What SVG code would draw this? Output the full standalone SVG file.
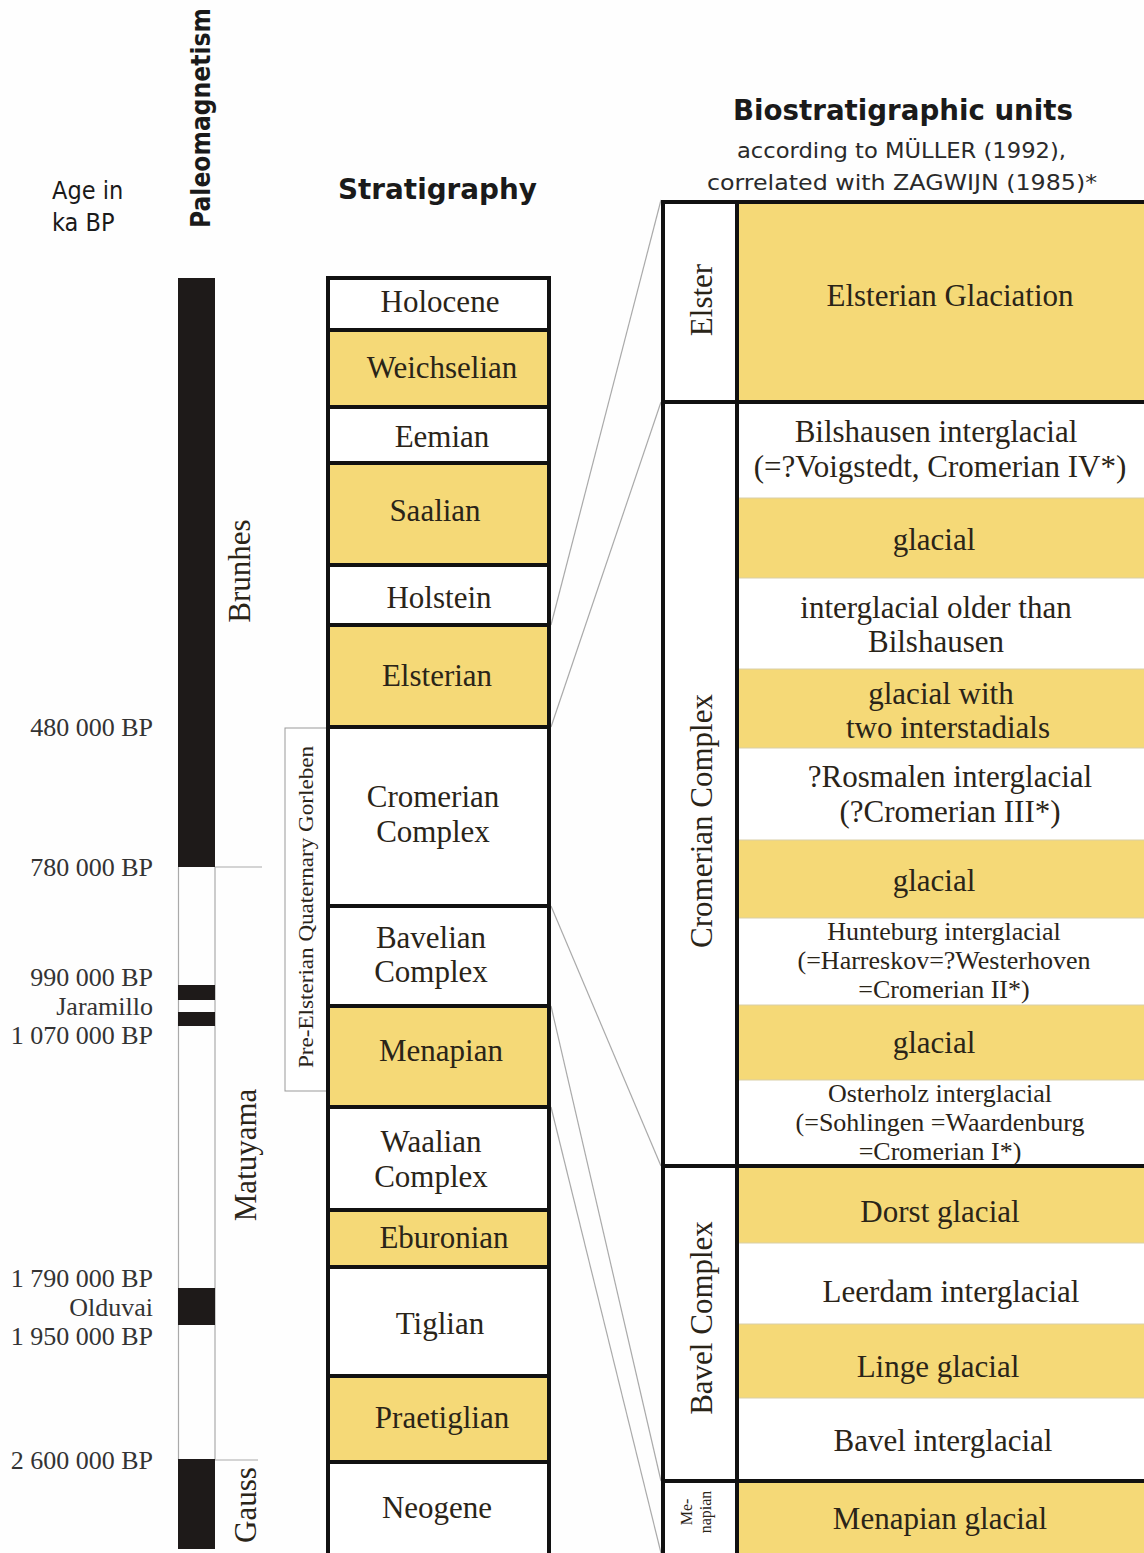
<svg xmlns="http://www.w3.org/2000/svg" width="1144" height="1553" viewBox="0 0 1144 1553">
<style>
.bg{fill:#fefefe}
.y{fill:#f5d977}
.w{fill:#ffffff}
.blk{fill:#1e1a19}
.thick{fill:none;stroke:#111;stroke-width:4}
.thin{fill:none;stroke:#aaa;stroke-width:1.2}
.sep{stroke:#d9cfa8;stroke-width:1}
.hd{font-family:"DejaVu Sans Condensed","DejaVu Sans",sans-serif;fill:#1a1a1a}
.sub{font-family:"DejaVu Sans Condensed","DejaVu Sans",sans-serif;fill:#2a2a2a;font-size:22px}
.s{font-family:"Liberation Serif","Times New Roman",serif;fill:#2a2418;text-anchor:middle}
.s28{font-size:31px}
.s23{font-size:26px}
.age{font-family:"Liberation Serif","Times New Roman",serif;fill:#333;font-size:26px;text-anchor:end}
</style>
<rect class="bg" x="0" y="0" width="1144" height="1553"/>

<!-- headers -->
<g id="headers">
<text class="hd" x="52" y="199" font-size="25">Age in</text>
<text class="hd" x="52" y="231" font-size="25">ka BP</text>
<text class="hd" font-weight="bold" font-size="26" text-anchor="middle" transform="translate(210,118) rotate(-90)" textLength="220" lengthAdjust="spacingAndGlyphs">Paleomagnetism</text>
<text class="hd" font-weight="bold" font-size="29" x="338" y="199" textLength="199" lengthAdjust="spacingAndGlyphs">Stratigraphy</text>
<text class="hd" font-weight="bold" font-size="29" x="733" y="120" textLength="340" lengthAdjust="spacingAndGlyphs">Biostratigraphic units</text>
<text class="sub" x="737" y="158" textLength="329" lengthAdjust="spacingAndGlyphs">according to MÜLLER (1992),</text>
<text class="sub" x="707" y="190" textLength="390" lengthAdjust="spacingAndGlyphs">correlated with ZAGWIJN (1985)*</text>
</g>

<!-- paleomagnetism column -->
<g id="paleomag">
<line class="thin" x1="178.5" y1="867" x2="178.5" y2="1460"/>
<line class="thin" x1="215" y1="867" x2="215" y2="1460"/>
<rect class="blk" x="178" y="278" width="37" height="589"/>
<rect class="blk" x="178" y="985" width="37" height="15"/>
<rect class="blk" x="178" y="1012" width="37" height="14"/>
<rect class="blk" x="178" y="1288" width="37" height="37"/>
<rect class="blk" x="178" y="1459" width="37" height="90"/>
<line class="thin" x1="215" y1="867" x2="262" y2="867"/>
<line class="thin" x1="215" y1="1460" x2="258" y2="1460"/>
<text class="s s28" transform="translate(250,571) rotate(-90)">Brunhes</text>
<text class="s s28" transform="translate(256,1155) rotate(-90)">Matuyama</text>
<text class="s s28" transform="translate(256,1505) rotate(-90)">Gauss</text>
</g>

<g id="ages">
<text class="age" x="153" y="736">480 000 BP</text>
<text class="age" x="153" y="876">780 000 BP</text>
<text class="age" x="153" y="986">990 000 BP</text>
<text class="age" x="153" y="1015">Jaramillo</text>
<text class="age" x="153" y="1044">1 070 000 BP</text>
<text class="age" x="153" y="1287">1 790 000 BP</text>
<text class="age" x="153" y="1316">Olduvai</text>
<text class="age" x="153" y="1345">1 950 000 BP</text>
<text class="age" x="153" y="1469">2 600 000 BP</text>
</g>

<g id="pre-elsterian">
<rect x="285" y="728" width="43" height="363" fill="#fff" stroke="#999" stroke-width="1"/>
<text class="s" font-size="21" transform="translate(313,907) rotate(-90)" textLength="322" lengthAdjust="spacingAndGlyphs">Pre-Elsterian Quaternary Gorleben</text>
</g>

<!-- connectors -->
<g id="connectors">
<line class="thin" x1="551" y1="625" x2="661" y2="200"/>
<line class="thin" x1="551" y1="727" x2="661" y2="402"/>
<line class="thin" x1="551" y1="906" x2="661" y2="1166"/>
<line class="thin" x1="551" y1="1006" x2="661" y2="1481"/>
<line class="thin" x1="551" y1="1107" x2="661" y2="1553"/>
</g>

<!-- stratigraphy column -->
<g id="stratigraphy">
<g id="holocene"><rect class="w" x="328" y="278" width="221" height="52"/><text class="s s28" x="440" y="312">Holocene</text></g>
<g id="weichselian"><rect class="y" x="328" y="330" width="221" height="77"/><text class="s s28" x="442" y="378">Weichselian</text></g>
<g id="eemian"><rect class="w" x="328" y="407" width="221" height="56"/><text class="s s28" x="442" y="447">Eemian</text></g>
<g id="saalian"><rect class="y" x="328" y="463" width="221" height="102"/><text class="s s28" x="435" y="521">Saalian</text></g>
<g id="holstein"><rect class="w" x="328" y="565" width="221" height="60"/><text class="s s28" x="439" y="608">Holstein</text></g>
<g id="elsterian"><rect class="y" x="328" y="625" width="221" height="102"/><text class="s s28" x="437" y="686">Elsterian</text></g>
<g id="cromerian"><rect class="w" x="328" y="727" width="221" height="179"/><text class="s s28" x="433" y="807">Cromerian</text><text class="s s28" x="433" y="842">Complex</text></g>
<g id="bavelian"><rect class="w" x="328" y="906" width="221" height="100"/><text class="s s28" x="431" y="948">Bavelian</text><text class="s s28" x="431" y="982">Complex</text></g>
<g id="menapian"><rect class="y" x="328" y="1006" width="221" height="101"/><text class="s s28" x="441" y="1061">Menapian</text></g>
<g id="waalian"><rect class="w" x="328" y="1107" width="221" height="103"/><text class="s s28" x="431" y="1152">Waalian</text><text class="s s28" x="431" y="1187">Complex</text></g>
<g id="eburonian"><rect class="y" x="328" y="1210" width="221" height="57"/><text class="s s28" x="444" y="1248">Eburonian</text></g>
<g id="tiglian"><rect class="w" x="328" y="1267" width="221" height="109"/><text class="s s28" x="440" y="1334">Tiglian</text></g>
<g id="praetiglian"><rect class="y" x="328" y="1376" width="221" height="86"/><text class="s s28" x="442" y="1428">Praetiglian</text></g>
<g id="neogene"><rect class="w" x="328" y="1462" width="221" height="95"/><text class="s s28" x="437" y="1518">Neogene</text></g>
<path class="thick" d="M328,1560 V278 H549 V1560 M328,330 H549 M328,407 H549 M328,463 H549 M328,565 H549 M328,625 H549 M328,727 H549 M328,906 H549 M328,1006 H549 M328,1107 H549 M328,1210 H549 M328,1267 H549 M328,1376 H549 M328,1462 H549"/>
</g>

<!-- biostratigraphic column -->
<g id="biostrat">
<rect class="w" x="663" y="202" width="481" height="1360"/>
<g id="elsterian-glaciation"><rect class="y" x="737" y="202" width="407" height="200"/><text class="s s28" x="950" y="306">Elsterian Glaciation</text></g>
<g id="bilshausen"><text class="s s28" x="936" y="442">Bilshausen interglacial</text><text class="s s28" x="940" y="477">(=?Voigstedt, Cromerian IV*)</text></g>
<g id="glacial-1"><rect class="y" x="737" y="498" width="407" height="80"/><text class="s s28" x="934" y="550">glacial</text></g>
<g id="older-than-bilshausen"><text class="s s28" x="936" y="618">interglacial older than</text><text class="s s28" x="936" y="652">Bilshausen</text></g>
<g id="glacial-interstadials"><rect class="y" x="737" y="669" width="407" height="79"/><text class="s s28" x="941" y="704">glacial with</text><text class="s s28" x="948" y="738">two interstadials</text></g>
<g id="rosmalen"><text class="s s28" x="950" y="787">?Rosmalen interglacial</text><text class="s s28" x="950" y="822">(?Cromerian III*)</text></g>
<g id="glacial-2"><rect class="y" x="737" y="840" width="407" height="78"/><text class="s s28" x="934" y="891">glacial</text></g>
<g id="hunteburg"><text class="s s23" x="944" y="940">Hunteburg interglacial</text><text class="s s23" x="944" y="969">(=Harreskov=?Westerhoven</text><text class="s s23" x="944" y="998">=Cromerian II*)</text></g>
<g id="glacial-3"><rect class="y" x="737" y="1005" width="407" height="75"/><text class="s s28" x="934" y="1053">glacial</text></g>
<g id="osterholz"><text class="s s23" x="940" y="1102">Osterholz interglacial</text><text class="s s23" x="940" y="1131">(=Sohlingen =Waardenburg</text><text class="s s23" x="940" y="1160">=Cromerian I*)</text></g>
<g id="dorst"><rect class="y" x="737" y="1166" width="407" height="77"/><text class="s s28" x="940" y="1222">Dorst glacial</text></g>
<g id="leerdam"><text class="s s28" x="951" y="1302">Leerdam interglacial</text></g>
<g id="linge"><rect class="y" x="737" y="1324" width="407" height="74"/><text class="s s28" x="938" y="1377">Linge glacial</text></g>
<g id="bavel-interglacial"><text class="s s28" x="943" y="1451">Bavel interglacial</text></g>
<g id="menapian-glacial"><rect class="y" x="737" y="1481" width="407" height="80"/><text class="s s28" x="940" y="1529">Menapian glacial</text></g>
<g id="separators">
<line class="sep" x1="739" y1="498" x2="1144" y2="498"/>
<line class="sep" x1="739" y1="578" x2="1144" y2="578"/>
<line class="sep" x1="739" y1="669" x2="1144" y2="669"/>
<line class="sep" x1="739" y1="748" x2="1144" y2="748"/>
<line class="sep" x1="739" y1="840" x2="1144" y2="840"/>
<line class="sep" x1="739" y1="918" x2="1144" y2="918"/>
<line class="sep" x1="739" y1="1005" x2="1144" y2="1005"/>
<line class="sep" x1="739" y1="1080" x2="1144" y2="1080"/>
<line class="sep" x1="739" y1="1243" x2="1144" y2="1243"/>
<line class="sep" x1="739" y1="1324" x2="1144" y2="1324"/>
<line class="sep" x1="739" y1="1398" x2="1144" y2="1398"/>
</g>
<g id="elster-label"><text class="s s28" transform="translate(712,300) rotate(-90)">Elster</text></g>
<g id="cromerian-label"><text class="s s28" transform="translate(712,821) rotate(-90)">Cromerian Complex</text></g>
<g id="bavel-label"><text class="s s28" transform="translate(712,1318) rotate(-90)">Bavel Complex</text></g>
<g id="menapian-label"><text class="s" font-size="16" transform="translate(692,1512) rotate(-90)">Me-</text><text class="s" font-size="16" transform="translate(711,1512) rotate(-90)">napian</text></g>
<path class="thick" d="M663,1560 V202 H1146 M737,202 V1560 M663,402 H1146 M663,1166 H1146 M663,1481 H1146"/>
</g>
</svg>
